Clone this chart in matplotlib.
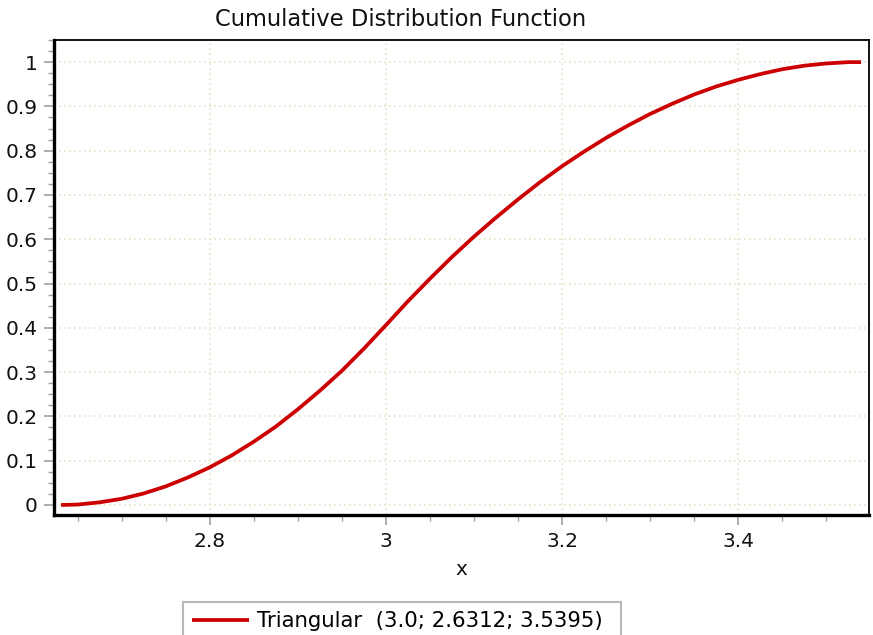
import matplotlib
matplotlib.use("Agg")
import matplotlib.pyplot as plt
from matplotlib.ticker import MultipleLocator, FuncFormatter

plt.rcParams['font.family'] = ['DejaVu Sans']

# Values
x_vals = [2.6312, 2.65, 2.675, 2.70, 2.725, 2.75, 2.775, 2.80, 2.825, 2.85,
          2.875, 2.90, 2.925, 2.95, 2.975, 3.00, 3.025, 3.05, 3.075, 3.10,
          3.125, 3.15, 3.175, 3.20, 3.225, 3.25, 3.275, 3.30, 3.325, 3.35,
          3.375, 3.40, 3.425, 3.45, 3.475, 3.50, 3.525, 3.5395]
cdf_vals = [0.0, 0.001, 0.006, 0.014, 0.026, 0.042, 0.062, 0.085, 0.112, 0.143,
            0.177, 0.216, 0.258, 0.303, 0.353, 0.406, 0.460, 0.511, 0.560, 0.606,
            0.649, 0.690, 0.729, 0.765, 0.798, 0.829, 0.857, 0.883, 0.906, 0.927,
            0.945, 0.960, 0.973, 0.984, 0.992, 0.997, 1.0, 1.0]
series_label = "Triangular  (3.0; 2.6312; 3.5395)"
x_ticks = [2.8, 3.0, 3.2, 3.4]
y_ticks = [0, 0.1, 0.2, 0.3, 0.4, 0.5, 0.6, 0.7, 0.8, 0.9, 1.0]

W, H = 873, 635
fig = plt.figure(figsize=(W / 100, H / 100), dpi=100)
ax = fig.add_axes([54 / W, 1 - 515 / H, (869 - 54) / W, (515 - 40) / H])

line, = ax.plot(x_vals, cdf_vals, color='#cc0000', lw=2.7, solid_capstyle='butt')

ax.set_xlim(2.6232, 3.5485)
ax.set_ylim(-0.0226, 1.050)

ax.set_xticks(x_ticks)
ax.set_yticks(y_ticks)
ax.xaxis.set_minor_locator(MultipleLocator(0.05))
ax.yaxis.set_minor_locator(MultipleLocator(0.025))

def fmt(v, pos):
    s = f"{v:.1f}"
    if s.endswith(".0"):
        s = s[:-2]
    return s
ax.xaxis.set_major_formatter(FuncFormatter(fmt))
ax.yaxis.set_major_formatter(FuncFormatter(fmt))

ax.tick_params(axis='both', which='major', direction='out', length=7, width=1.2,
               color='#a0a0a0', labelsize=14.5, labelcolor='#111111')
ax.tick_params(axis='both', which='minor', direction='out', length=4, width=1.0,
               color='#a0a0a0')
ax.tick_params(axis='x', which='major', pad=5)
ax.tick_params(axis='y', which='major', pad=5)

ax.grid(True, which='major', color='#e6e2c8', linestyle=(0, (1, 2)), lw=1.2)
ax.set_axisbelow(True)

for side in ['left', 'bottom']:
    ax.spines[side].set_linewidth(2.4)
    ax.spines[side].set_color('black')
for side in ['top', 'right']:
    ax.spines[side].set_linewidth(1.3)
    ax.spines[side].set_color('black')

fig.text(401 / W, 1 - 19 / H, "Cumulative Distribution Function", ha='center', va='center',
         fontsize=16.3, color='#111111')
ax.set_xlabel("x", fontsize=14.5, color='#111111', labelpad=7)

leg = fig.legend([line], [series_label], loc='upper left',
                 bbox_to_anchor=(183 / W, 1 - 603 / H, (621 - 183) / W, 0.001),
                 bbox_transform=fig.transFigure, mode='expand',
                 fontsize=15.3, frameon=True, fancybox=False, handlelength=2.7,
                 handletextpad=0.38, borderpad=0.42, borderaxespad=0)
leg.get_frame().set_edgecolor('#a8a8a0')
leg.get_frame().set_linewidth(1.5)

fig.savefig("out.png", dpi=100)
